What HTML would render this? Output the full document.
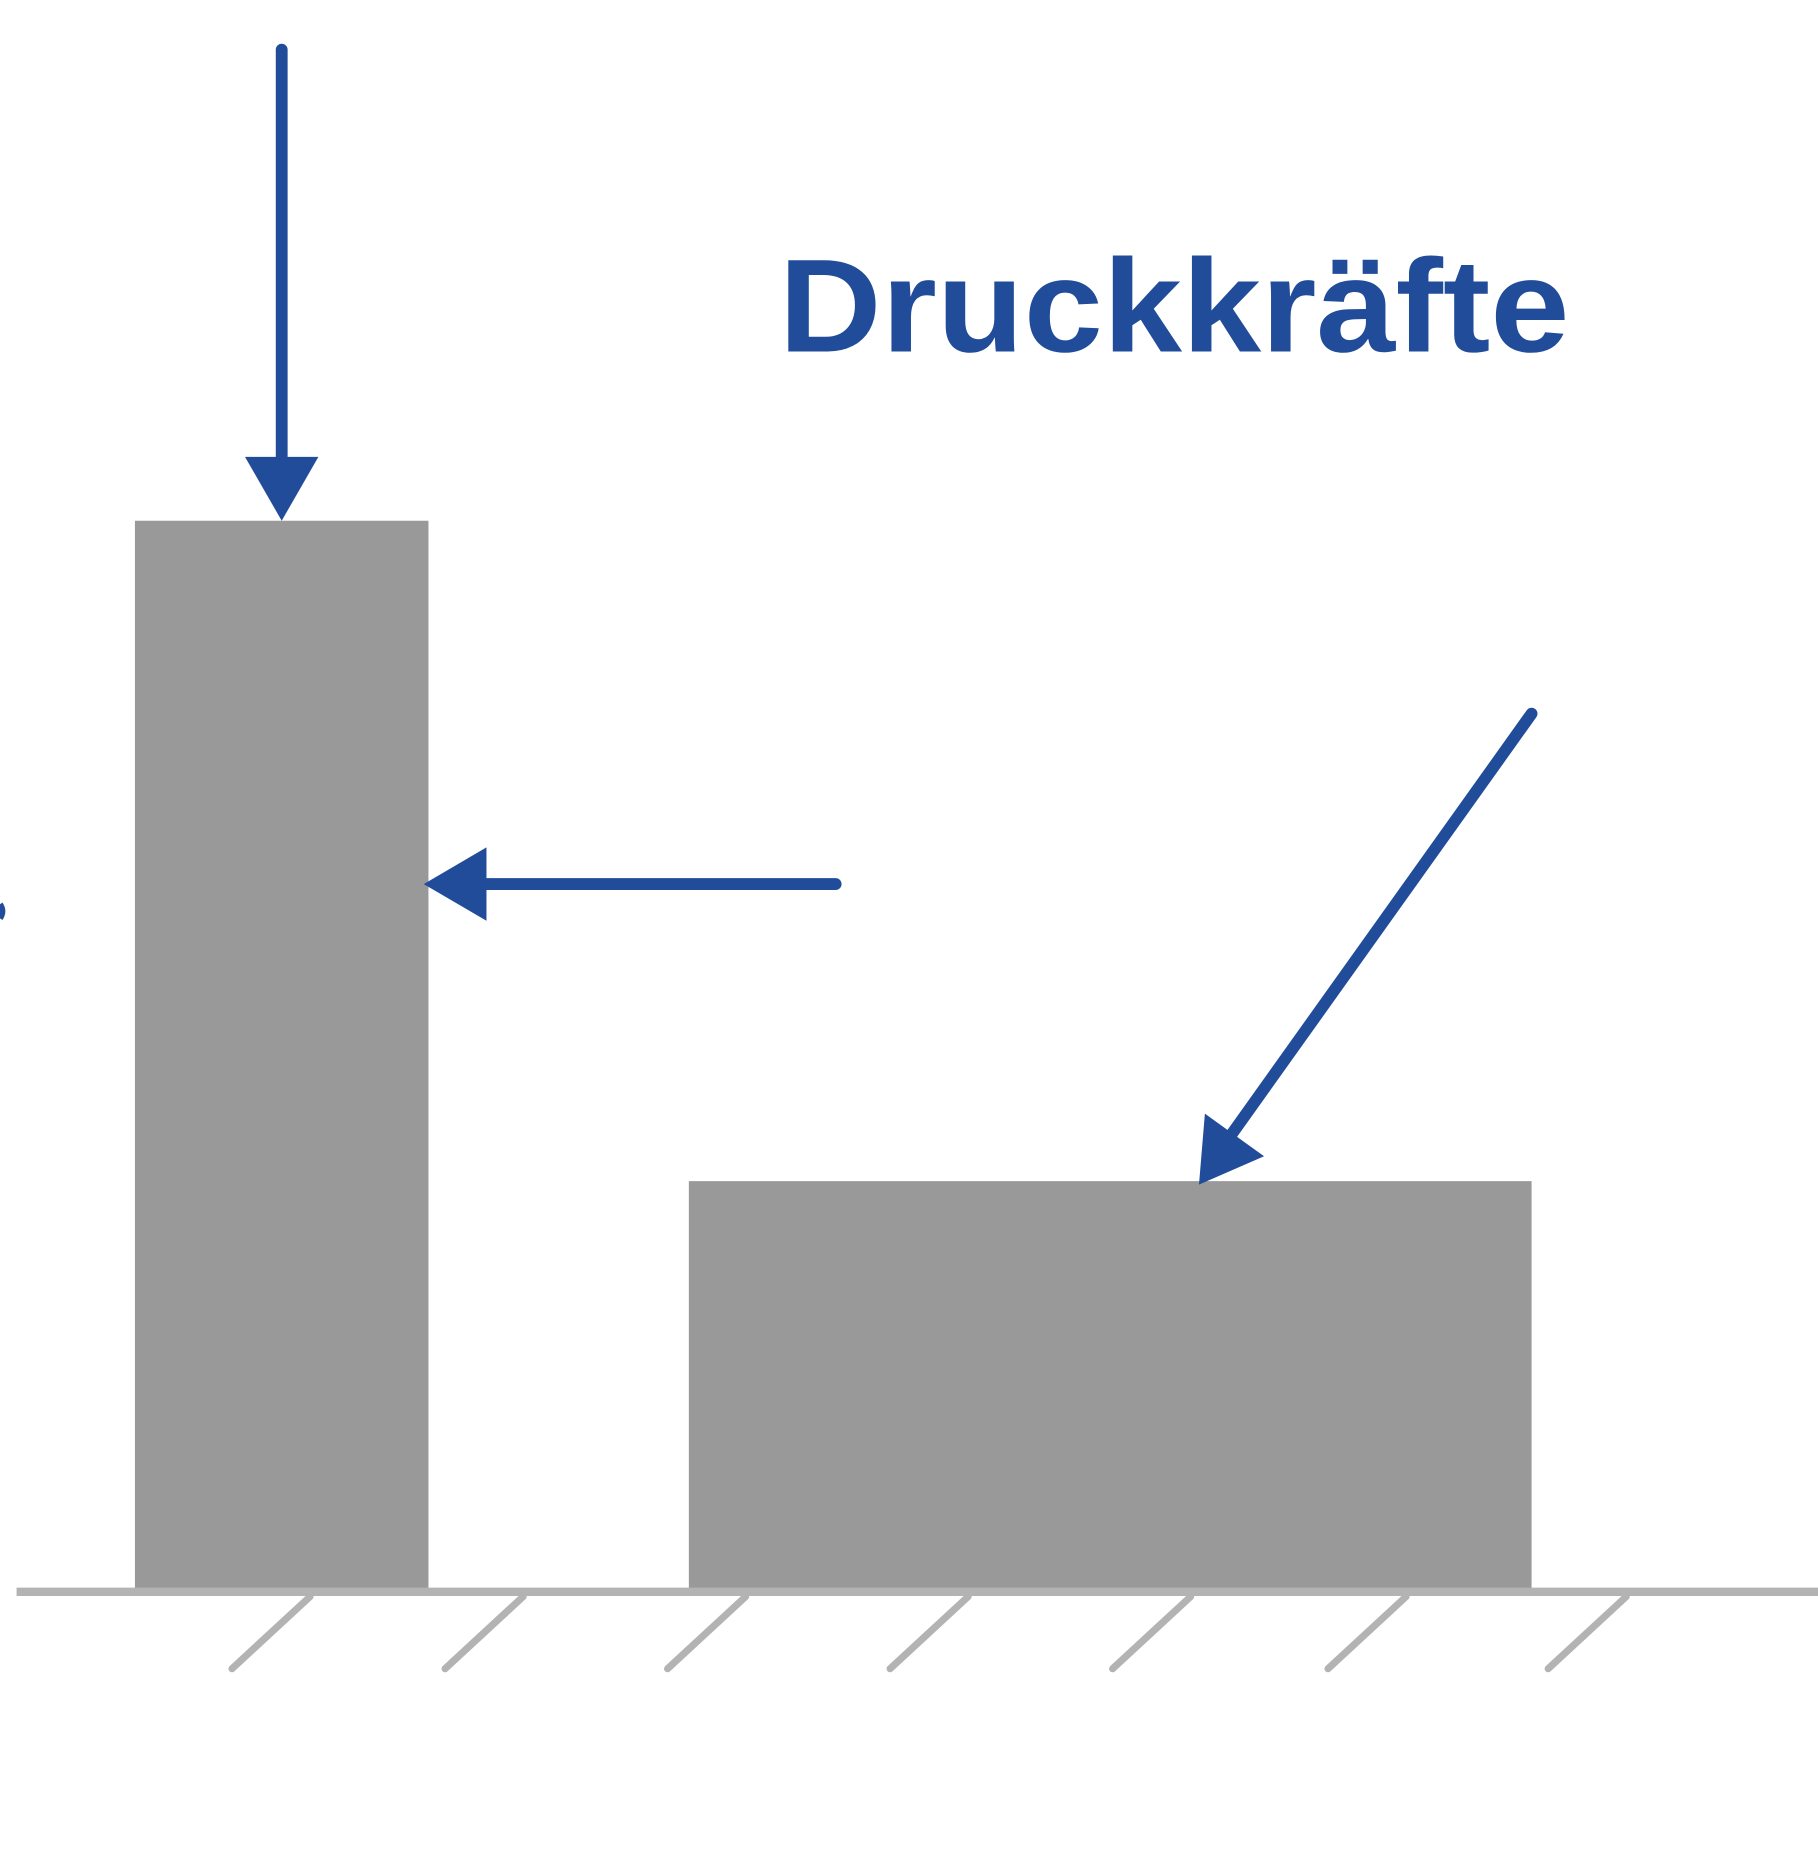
<!DOCTYPE html>
<html><head><meta charset="utf-8"><style>
html,body{margin:0;padding:0;background:#fff;}
svg{display:block;}
</style></head><body>
<svg width="1818" height="1851" viewBox="0 0 1536 1564" preserveAspectRatio="none" xmlns="http://www.w3.org/2000/svg">
  <rect x="114" y="440" width="248" height="902" fill="#999999"/>
  <rect x="582" y="998" width="712" height="347" fill="#999999"/>
  <line x1="14" y1="1345" x2="1536" y2="1345" stroke="#b3b3b3" stroke-width="7"/>
  <g stroke="#b3b3b3" stroke-width="6" stroke-linecap="round">
    <line x1="262" y1="1349" x2="196" y2="1410"/>
    <line x1="442" y1="1349" x2="376" y2="1410"/>
    <line x1="630" y1="1349" x2="564" y2="1410"/>
    <line x1="818" y1="1349" x2="752" y2="1410"/>
    <line x1="1006" y1="1349" x2="940" y2="1410"/>
    <line x1="1188" y1="1349" x2="1122" y2="1410"/>
    <line x1="1374" y1="1349" x2="1308" y2="1410"/>
  </g>
  <g>
    <line x1="238" y1="42" x2="238" y2="390" stroke="#214c9a" stroke-width="10" stroke-linecap="round"/>
    <polygon points="207,386 269,386 238,440" fill="#214c9a"/>
  </g>
  <g>
    <line x1="706" y1="747" x2="405" y2="747" stroke="#214c9a" stroke-width="10" stroke-linecap="round"/>
    <polygon points="358,747 411,716 411,778" fill="#214c9a"/>
  </g>
  <g>
    <line x1="1294" y1="603" x2="1038" y2="962" stroke="#214c9a" stroke-width="10" stroke-linecap="round"/>
    <polygon points="1013,1001 1018,941 1068,977" fill="#214c9a"/>
  </g>
  <path d="M0,764 Q4,770 0,776" stroke="#214c9a" stroke-width="5" fill="none"/>
  <text x="658" y="297" textLength="668" lengthAdjust="spacingAndGlyphs" font-family="'Liberation Sans', sans-serif" font-weight="bold" font-size="112" fill="#214c9a">Druckkräfte</text>
</svg>
</body></html>
